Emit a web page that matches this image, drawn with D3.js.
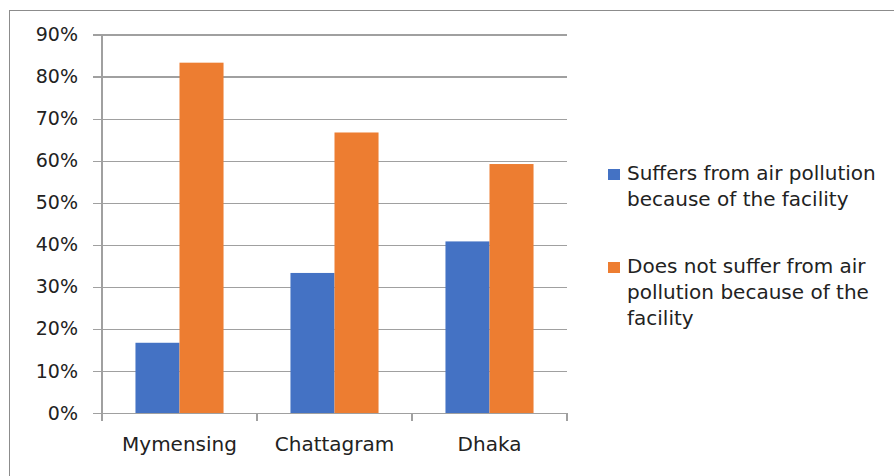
<!DOCTYPE html>
<html>
<head>
<meta charset="utf-8">
<script src="https://cdn.jsdelivr.net/npm/d3@7"></script>
<style>
  html, body { margin: 0; padding: 0; background: #fff; }
  svg { display: block; }
  text { font-family: "DejaVu Sans", sans-serif; fill: #222; }
</style>
</head>
<body>
<div id="chart"></div>
<script>
// Share of respondents per city
const cities = ["Mymensing", "Chattagram", "Dhaka"];
const suffers = [0.167, 0.333, 0.408];
const doesNotSuffer = [0.833, 0.667, 0.592];
const seriesNames = [
  ["Suffers from air pollution", "because of the facility"],
  ["Does not suffer from air", "pollution because of the", "facility"]
];
const seriesColors = ["#4472C4", "#ED7D31"];
const yTicks = [0, 0.1, 0.2, 0.3, 0.4, 0.5, 0.6, 0.7, 0.8, 0.9];

const W = 894, H = 476;
const svg = d3.select("#chart").append("svg").attr("width", W).attr("height", H);

// outer chart frame
svg.append("rect")
  .attr("x", 9.5).attr("y", 10.5)
  .attr("width", W).attr("height", H)
  .attr("fill", "#fff").attr("stroke", "#8c8c8c").attr("stroke-width", 1);

const plot = { left: 102, right: 567, top: 34.5, bottom: 413 };

const x = d3.scaleBand().domain(cities).range([plot.left, plot.right]).paddingInner(0).paddingOuter(0);
const inner = d3.scaleBand().domain([0, 1]).range([0, x.bandwidth()]).paddingInner(0).paddingOuter(0.76);
const y = d3.scaleLinear().domain([0, 0.9]).range([plot.bottom, plot.top]);

// horizontal gridlines with left tick marks
const yAxis = d3.axisLeft(y).tickValues(yTicks).tickFormat(d3.format(".0%"))
  .tickSize(-(plot.right - plot.left)).tickPadding(24);
const gy = svg.append("g").attr("transform", `translate(${plot.left},0)`).call(yAxis);
gy.select(".domain").remove();
gy.selectAll(".tick line").attr("stroke", "#a0a0a0").attr("stroke-width", 1.2)
  .attr("x1", -9).attr("shape-rendering", "crispEdges");
gy.selectAll(".tick text").attr("font-size", 19).attr("fill", "#222")
  .attr("font-family", "DejaVu Sans, sans-serif");

// vertical axis line
svg.append("line")
  .attr("x1", plot.left).attr("x2", plot.left)
  .attr("y1", plot.top).attr("y2", plot.bottom)
  .attr("stroke", "#a0a0a0").attr("stroke-width", 1.2).attr("shape-rendering", "crispEdges");

// bars
const rows = cities.map((c, i) => ({ city: c, vals: [suffers[i], doesNotSuffer[i]] }));
const groups = svg.append("g").selectAll("g").data(rows).join("g")
  .attr("transform", d => `translate(${x(d.city)},0)`);
groups.selectAll("rect").data(d => d.vals.map((v, k) => ({ k, v }))).join("rect")
  .attr("x", d => inner(d.k))
  .attr("width", inner.bandwidth())
  .attr("y", d => y(d.v))
  .attr("height", d => y(0) - y(d.v))
  .attr("fill", d => seriesColors[d.k]);

// category axis
const xAxis = d3.axisBottom(x).tickSize(0).tickPadding(24);
const gx = svg.append("g").attr("transform", `translate(0,${plot.bottom})`).call(xAxis);
gx.select(".domain").attr("stroke", "#a0a0a0").attr("stroke-width", 1.2);
gx.selectAll(".tick text").attr("font-size", 20).attr("fill", "#222")
  .attr("font-family", "DejaVu Sans, sans-serif");
// boundary ticks between categories
const bounds = cities.map(c => x(c)).concat([x(cities[cities.length - 1]) + x.bandwidth()]);
svg.append("g").selectAll("line").data(bounds).join("line")
  .attr("x1", d => d).attr("x2", d => d)
  .attr("y1", plot.bottom).attr("y2", plot.bottom + 8)
  .attr("stroke", "#a0a0a0").attr("stroke-width", 1.2).attr("shape-rendering", "crispEdges");

// legend
const legend = svg.append("g");
const entryTop = [169, 262];
seriesNames.forEach((lines, k) => {
  legend.append("rect")
    .attr("x", 608).attr("y", entryTop[k])
    .attr("width", 12).attr("height", 11)
    .attr("fill", seriesColors[k]);
  const t = legend.append("text").attr("x", 627).attr("y", entryTop[k] + 11).attr("font-size", 20);
  lines.forEach((ln, j) => {
    t.append("tspan").attr("x", 627).attr("dy", j === 0 ? 0 : 26).text(ln);
  });
});
</script>
</body>
</html>
